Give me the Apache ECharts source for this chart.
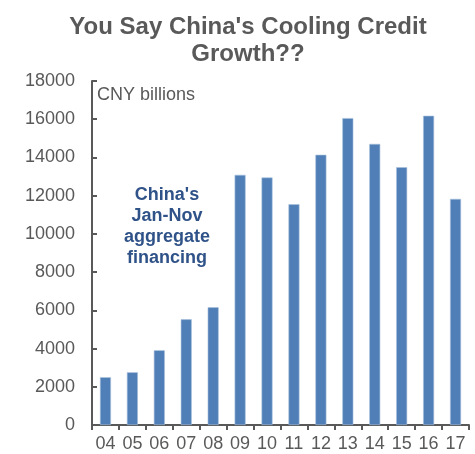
<!DOCTYPE html>
<html>
<head>
<meta charset="utf-8">
<script src="https://cdn.jsdelivr.net/npm/echarts@6/dist/echarts.min.js"></script>
<style>html,body{margin:0;padding:0;background:#fff}#c{width:475px;height:454px}</style>
</head>
<body>
<div id="c"></div>
<script>
const categories = ['04','05','06','07','08','09','10','11','12','13','14','15','16','17'];
const values = [2500, 2760, 3910, 5530, 6160, 13090, 12950, 11550, 14140, 16060, 14710, 13490, 16180, 11830];
const titleText = "You Say China's Cooling Credit\nGrowth??";
const unitText = 'CNY billions';
const noteText = "China's\nJan-Nov\naggregate\nfinancing";

const chart = echarts.init(document.getElementById('c'));
chart.setOption({
  animation: false,
  title: {
    text: titleText,
    left: 243, top: 9, textAlign: 'center',
    textStyle: { fontFamily: 'Liberation Sans', fontSize: 24, fontWeight: 'bold', color: '#595959', lineHeight: 27 }
  },
  grid: { left: 92, right: 6, top: 81, bottom: 29 },
  xAxis: {
    type: 'category', data: categories,
    axisLine: { lineStyle: { color: '#595959', width: 2 } },
    axisTick: { show: true, inside: false, length: 5, lineStyle: { color: '#595959', width: 2 } },
    axisLabel: { fontFamily: 'Liberation Sans', fontSize: 18, color: '#595959', margin: 10 }
  },
  yAxis: {
    type: 'value', min: 0, max: 18000, interval: 2000,
    splitLine: { show: false },
    axisLine: { show: true, lineStyle: { color: '#595959', width: 2 } },
    axisTick: { show: true, inside: true, length: 5, lineStyle: { color: '#595959', width: 2 } },
    axisLabel: { fontFamily: 'Liberation Sans', fontSize: 18, color: '#595959', margin: 17, formatter: v => String(v) }
  },
  series: [{
    type: 'bar', data: values, barWidth: 11,
    itemStyle: { color: '#4F7FB6', borderColor: '#A9C1DE', borderWidth: 0.6 }
  }],
  graphic: [
    { type: 'text', left: 97, top: 86, style: { text: unitText, font: '18px "Liberation Sans"', fill: '#595959' } },
    { type: 'text', x: 167, y: 185, style: { text: noteText, font: 'bold 18px "Liberation Sans"', fill: '#2F5288', align: 'center', lineHeight: 21 } }
  ]
});
</script>
</body>
</html>
